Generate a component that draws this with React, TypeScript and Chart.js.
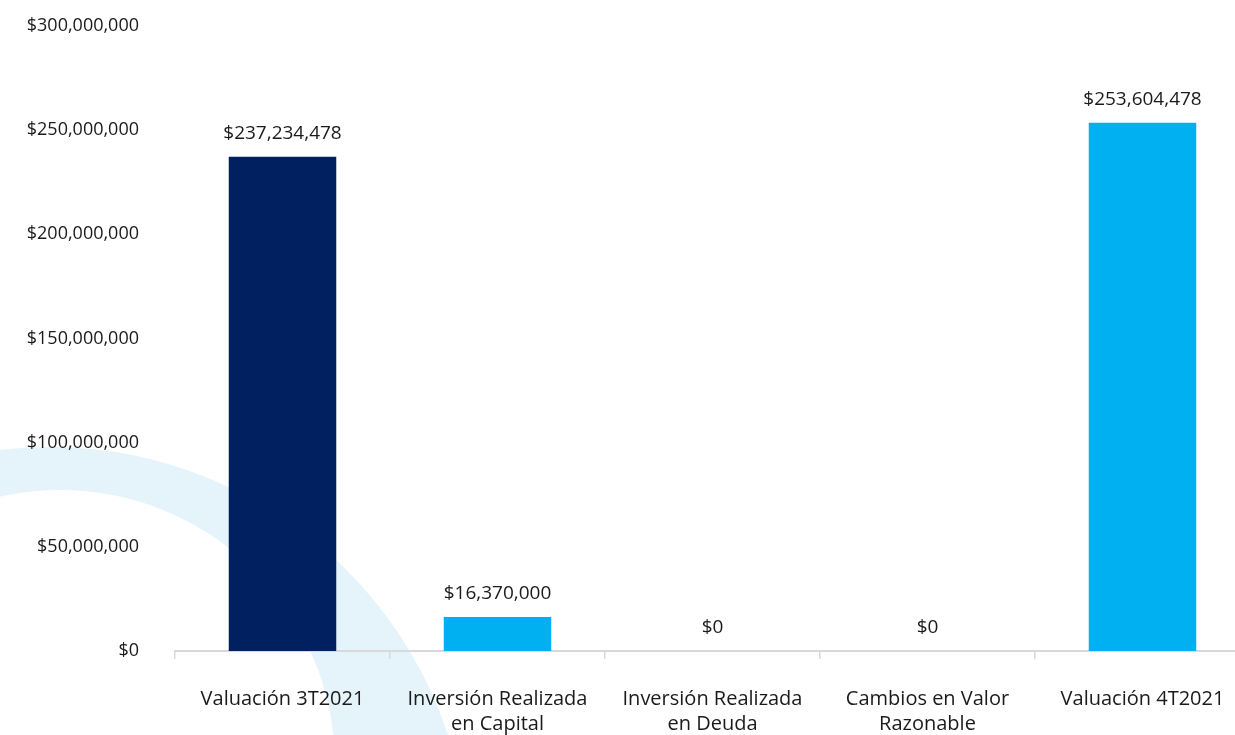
import React, { useEffect, useRef } from "react";
import { Chart, registerables } from "chart.js";

Chart.register(...registerables);

const categories: string[][] = [
  ["Valuación 3T2021"],
  ["Inversión Realizada", "en Capital"],
  ["Inversión Realizada", "en Deuda"],
  ["Cambios en Valor", "Razonable"],
  ["Valuación 4T2021"],
];
const values: number[] = [237234478, 16370000, 0, 0, 253604478];
const yMin = 0;
const yMax = 300000000;
const yStep = 50000000;

const NAVY = "#002060";
const LIGHT = "#00B0F0";
const ARC = "#e5f3fb";
const TEXT = "#1a1a1a";
const FONT = "'Open Sans', sans-serif";

const fmt = (v: number) => "$" + Math.round(v).toLocaleString("en-US");

const arcPlugin = {
  id: "bgArc",
  beforeDraw(chart: any) {
    const ctx = chart.ctx as CanvasRenderingContext2D;
    ctx.save();
    ctx.beginPath();
    ctx.arc(50, 866, 419, 0, Math.PI * 2);
    ctx.arc(60, 765, 275, 0, Math.PI * 2, true);
    ctx.fillStyle = ARC;
    ctx.fill("evenodd");
    ctx.restore();
  },
};

const labelPlugin = {
  id: "valueLabels",
  afterDatasetsDraw(chart: any) {
    const ctx = chart.ctx as CanvasRenderingContext2D;
    const meta = chart.getDatasetMeta(0);
    ctx.save();
    ctx.font = `19px ${FONT}`;
    ctx.fillStyle = TEXT;
    ctx.textAlign = "center";
    ctx.textBaseline = "middle";
    meta.data.forEach((bar: any, i: number) => {
      ctx.fillText(fmt(values[i]), bar.x, bar.y - 23);
    });
    ctx.restore();
  },
};

export default function App() {
  const ref = useRef<HTMLCanvasElement | null>(null);
  useEffect(() => {
    if (!ref.current) return;
    const chart = new Chart(ref.current, {
      type: "bar",
      data: {
        labels: categories,
        datasets: [
          {
            data: values,
            backgroundColor: (c: any) => (c.dataIndex === 0 ? NAVY : LIGHT),
            barPercentage: 0.5,
            categoryPercentage: 1,
          },
        ],
      },
      options: {
        animation: false,
        responsive: true,
        maintainAspectRatio: false,
        layout: { padding: { top: 26, right: 12, bottom: 0, left: 0 } },
        plugins: {
          legend: { display: false },
          tooltip: { enabled: false },
        },
        scales: {
          x: {
            offset: true,
            grid: {
              display: true,
              drawOnChartArea: false,
              drawTicks: true,
              tickLength: 8,
              color: "#d9d9d9",
              lineWidth: 1.5,
              offset: true,
            },
            border: { display: true, color: "#d9d9d9", width: 2 },
            ticks: {
              color: TEXT,
              font: { family: FONT, size: 20, lineHeight: 1.25 },
              padding: 28,
              maxRotation: 0,
              autoSkip: false,
            },
            afterFit: (s: any) => {
              s.height = 84;
            },
          },
          y: {
            min: yMin,
            max: yMax,
            grid: { display: false },
            border: { display: false },
            ticks: {
              stepSize: yStep,
              color: TEXT,
              font: { family: FONT, size: 18 },
              padding: 28,
              callback: (v: any) => fmt(Number(v)),
            },
            afterFit: (s: any) => {
              s.width = 175;
              s.paddingTop = 0;
              s.paddingBottom = 0;
            },
          },
        },
      },
      plugins: [arcPlugin, labelPlugin],
    });
    return () => chart.destroy();
  }, []);
  return (
    <div
      style={{
        position: "fixed",
        left: 0,
        top: 0,
        width: 1235,
        height: 735,
        overflow: "hidden",
        background: "#fff",
      }}
    >
      <div style={{ position: "relative", width: 1262, height: 735 }}>
        <canvas ref={ref} />
      </div>
    </div>
  );
}
